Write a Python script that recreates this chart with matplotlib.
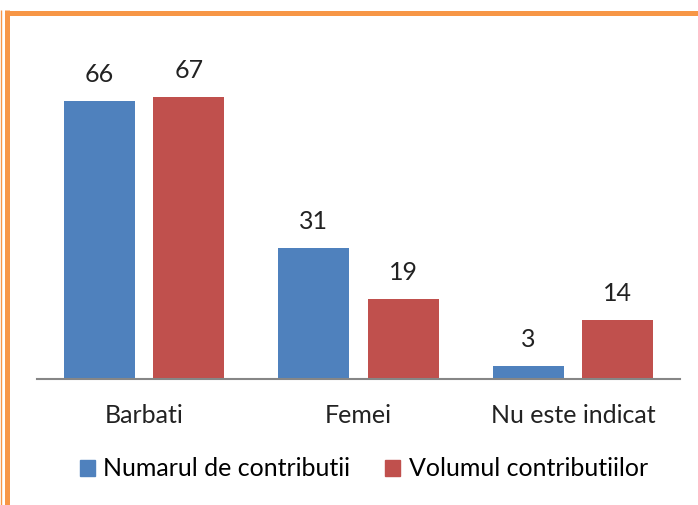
import matplotlib.pyplot as plt
import numpy as np
from matplotlib.lines import Line2D
from matplotlib.patches import Patch

# data
categories = ['Barbati', 'Femei', 'Nu este indicat']
numarul = [66, 31, 3]
volumul = [67, 19, 14]
series_names = ['Numarul de contributii', 'Volumul contributiilor']
colors = ['#4F81BD', '#C0504D']

plt.rcParams['font.family'] = ['Lato', 'DejaVu Sans']

W, H = 698, 505
fig = plt.figure(figsize=(W / 100, H / 100), dpi=100)
ax = fig.add_axes([37 / W, (H - 379) / H, (680 - 37) / W, 337 / H])

x = np.arange(len(categories))
bw = 71 / 214
off = 44.5 / 214
b1 = ax.bar(x - off, numarul, bw, color=colors[0])
b2 = ax.bar(x + off, volumul, bw, color=colors[1])

for bars, vals in ((b1, numarul), (b2, volumul)):
    for b, v in zip(bars, vals):
        ax.annotate(str(v), (b.get_x() + b.get_width() / 2, v),
                    xytext=(0, 15), textcoords='offset pixels',
                    ha='center', va='bottom', fontsize=18, color='#222222')

ax.set_xlim(-0.5, 2.5)
ax.set_ylim(0, 80)
ax.set_xticks(x)
ax.set_xticklabels(categories, fontsize=18, color='#222222')
ax.tick_params(axis='x', length=0, pad=18)
ax.set_yticks([])
for s in ['top', 'right', 'left']:
    ax.spines[s].set_visible(False)
ax.spines['bottom'].set_color('#868686')
ax.spines['bottom'].set_linewidth(1.5)

handles = [Patch(color=c) for c in colors]
fig.legend(handles, series_names, loc='center', bbox_to_anchor=(364 / W, 1 - 469 / H),
           ncol=2, frameon=False, fontsize=18, handlelength=0.6, handleheight=0.6,
           handletextpad=0.35, columnspacing=1.4)

# orange frame
orange = '#F79646'
fig.add_artist(Line2D([5 / W, 1], [1 - 12.5 / H, 1 - 12.5 / H], color=orange, lw=3.6,
                      transform=fig.transFigure, solid_capstyle='butt'))
fig.add_artist(Line2D([7.5 / W, 7.5 / W], [0, 1 - 10 / H], color=orange, lw=3.6,
                      transform=fig.transFigure, solid_capstyle='butt'))
fig.add_artist(Line2D([0.7 / W, 0.7 / W], [0, 1 - 10 / H], color=orange, lw=1,
                      transform=fig.transFigure, solid_capstyle='butt'))

fig.savefig('out.png', dpi=100)
